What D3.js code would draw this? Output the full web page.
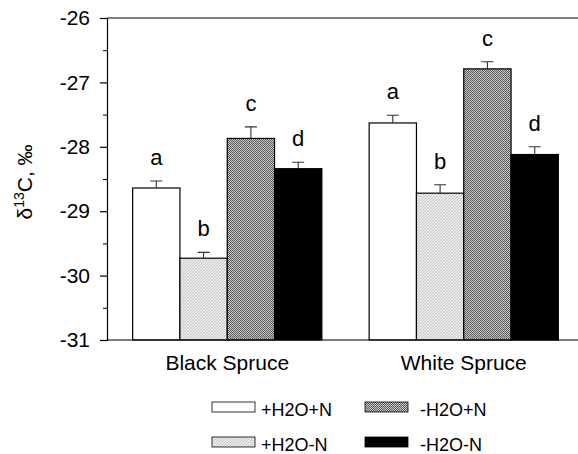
<!DOCTYPE html>
<html>
<head>
<meta charset="utf-8">
<script src="https://cdn.jsdelivr.net/npm/d3@7"></script>
<style>
  body { margin: 0; background: #fff; }
  svg { font-family: "Liberation Sans", Arial, sans-serif; }
</style>
</head>
<body>
<div id="chart"></div>
<script>
// Data
const species = ["Black Spruce", "White Spruce"];
const treatments = ["+H2O+N", "+H2O-N", "-H2O+N", "-H2O-N"];
const letters = ["a", "b", "c", "d"];
const blackSpruce = [-28.64, -29.73, -27.87, -28.34];
const whiteSpruce = [-27.63, -28.72, -26.79, -28.12];
const blackErr = [0.11, 0.09, 0.18, 0.10];
const whiteErr = [0.12, 0.13, 0.11, 0.12];
const yTicks = [-31, -30, -29, -28, -27, -26];

const width = 578, height = 454;
const margin = { top: 18, right: 0, bottom: 114, left: 107 };

const svg = d3.select("#chart").append("svg")
  .attr("width", width)
  .attr("height", height);

// Fill patterns
const defs = svg.append("defs");
const hatch = defs.append("pattern")
  .attr("id", "hatch").attr("patternUnits", "userSpaceOnUse")
  .attr("width", 3).attr("height", 3);
hatch.append("rect").attr("width", 3).attr("height", 3).attr("fill", "#ebebeb");
hatch.append("path").attr("d", "M0,3 L3,0 M-1,1 L1,-1 M2,4 L4,2")
  .attr("stroke", "#b4b4b4").attr("stroke-width", 0.7);

// fine checker for the -H2O+N bars
const dots = defs.append("pattern")
  .attr("id", "dots").attr("patternUnits", "userSpaceOnUse")
  .attr("width", 2).attr("height", 2);
dots.append("rect").attr("width", 2).attr("height", 2).attr("fill", "#c8c8c8");
dots.append("rect").attr("width", 1).attr("height", 1).attr("fill", "#5a5a5a");
dots.append("rect").attr("x", 1).attr("y", 1).attr("width", 1).attr("height", 1).attr("fill", "#5a5a5a");

const fills = ["#fff", "url(#hatch)", "url(#dots)", "#000"];

// Scales
const y = d3.scaleLinear().domain([-31, -26]).range([height - margin.bottom, margin.top]);
const x0 = d3.scaleBand().domain(species).range([109, 582])
  .paddingInner(0.2).paddingOuter(0.1);
const x1 = d3.scaleBand().domain(treatments).range([0, x0.bandwidth()]);

const rows = [
  species.map((s, j) => treatments.map((t, i) => ({
    sp: s, tr: t, i: i,
    v: j === 0 ? blackSpruce[i] : whiteSpruce[i],
    e: j === 0 ? blackErr[i] : whiteErr[i]
  })))
].flat(2);

// Bars
const g = svg.append("g");
g.selectAll("rect.bar").data(rows).enter().append("rect")
  .attr("class", "bar")
  .attr("x", d => x0(d.sp) + x1(d.tr))
  .attr("y", d => y(d.v))
  .attr("width", x1.bandwidth())
  .attr("height", d => y(-31) - y(d.v))
  .attr("fill", d => fills[d.i])
  .attr("stroke", "#000")
  .attr("stroke-width", 1.2);

// Error bars (upper only)
const cx = d => x0(d.sp) + x1(d.tr) + x1.bandwidth() / 2;
g.selectAll("path.err").data(rows).enter().append("path")
  .attr("class", "err")
  .attr("d", d => `M${cx(d)},${y(d.v)}V${y(d.v + d.e)}M${cx(d) - 6},${y(d.v + d.e)}H${cx(d) + 6}`)
  .attr("stroke", "#333").attr("stroke-width", 1.1).attr("fill", "none");

// Significance letters
g.selectAll("text.letter").data(rows).enter().append("text")
  .attr("class", "letter")
  .attr("x", cx)
  .attr("y", d => y(d.v + d.e) - 16)
  .attr("text-anchor", "middle")
  .attr("font-size", 22)
  .text(d => letters[d.i]);

// Frame lines: top and bottom across full width
svg.append("line").attr("x1", margin.left).attr("x2", width)
  .attr("y1", y(-26)).attr("y2", y(-26)).attr("stroke", "#000").attr("stroke-width", 1.2);
svg.append("line").attr("x1", margin.left).attr("x2", width)
  .attr("y1", y(-31)).attr("y2", y(-31)).attr("stroke", "#000").attr("stroke-width", 1.2);

// Y axis
const yAxis = d3.axisLeft(y).tickValues(yTicks).tickFormat(d3.format("d"))
  .tickSize(7).tickPadding(10);
const ya = svg.append("g").attr("transform", `translate(${margin.left},0)`).call(yAxis);
ya.select(".domain").attr("stroke-width", 1.2);
ya.selectAll(".tick text").attr("font-size", 21).attr("font-family", "Liberation Sans, Arial, sans-serif")
  .text(d => "-" + Math.abs(d));
ya.selectAll(".tick line").attr("stroke-width", 1.2);
const yMinor = d3.axisLeft(y).tickValues(d3.range(-30.5, -26, 1)).tickSize(4).tickFormat("");
const ym = svg.append("g").attr("transform", `translate(${margin.left},0)`).call(yMinor);
ym.select(".domain").remove();

// Category labels
svg.selectAll("text.cat").data(species).enter().append("text")
  .attr("class", "cat")
  .attr("x", d => x0(d) + x0.bandwidth() / 2)
  .attr("y", 370)
  .attr("text-anchor", "middle")
  .attr("font-size", 21)
  .text(d => d);

// Y label
const yl = svg.append("text")
  .attr("transform", "translate(32,182) rotate(-90)")
  .attr("text-anchor", "middle")
  .attr("font-size", 21);
yl.append("tspan").text("δ");
yl.append("tspan").attr("font-size", 14).attr("dy", -8).text("13");
yl.append("tspan").attr("dy", 8).text("C, ‰");

// Legend
const legendPos = [[212, 402], [212, 437], [365, 402], [365, 437]];
const lg = svg.selectAll("g.leg").data(treatments).enter().append("g")
  .attr("class", "leg")
  .attr("transform", (d, i) => `translate(${legendPos[i][0]},${legendPos[i][1]})`);
lg.append("rect").attr("width", 43).attr("height", 10)
  .attr("fill", (d, i) => fills[i]).attr("stroke", "#000").attr("stroke-width", 0.8);
lg.append("text").attr("x", (d, i) => i < 2 ? 49 : 55).attr("y", 14)
  .attr("font-size", 18).text(d => d);
</script>
</body>
</html>
